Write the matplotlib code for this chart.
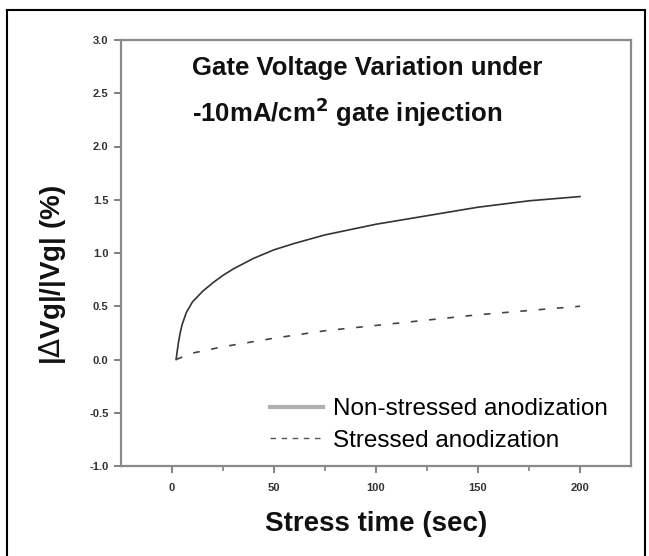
import numpy as np
import matplotlib.pyplot as plt
from matplotlib.lines import Line2D

plt.rcParams['font.family'] = ['Liberation Sans', 'DejaVu Sans']

# 数据
t_non = [2, 3, 4, 5, 7, 10, 15, 20, 25, 30, 40, 50, 60, 75, 90, 100, 125, 150, 175, 200]
v_non = [0.0, 0.14, 0.25, 0.33, 0.44, 0.54, 0.64, 0.72, 0.79, 0.85, 0.95, 1.03, 1.09, 1.17, 1.23, 1.27, 1.35, 1.43, 1.49, 1.53]
t_str = [2, 10, 25, 50, 75, 100, 125, 150, 175, 200]
v_str = [0.0, 0.06, 0.12, 0.20, 0.27, 0.32, 0.37, 0.42, 0.46, 0.50]

x_ticks = [0, 50, 100, 150, 200]
x_minor = [25, 75, 125, 175]
y_ticks = [-1.0, -0.5, 0.0, 0.5, 1.0, 1.5, 2.0, 2.5, 3.0]

fig = plt.figure(figsize=(6.49, 5.56), dpi=100)
# 坐标轴位置（像素）: 左121 右631 上40 下466
ax = fig.add_axes([121/649, 1 - 466/556, 510/649, 426/556])

ax.plot(t_non, v_non, color='#333333', lw=1.2)
ax.plot(t_str, v_str, color='#444444', lw=1.2, ls=(0, (4, 7)))

ax.set_xlim(-25, 225)
ax.set_ylim(-1.0, 3.0)
ax.set_xticks(x_ticks)
ax.set_xticks(x_minor, minor=True)
ax.set_yticks(y_ticks)
ax.set_yticklabels([f'{v:.1f}' for v in y_ticks])

for s in ax.spines.values():
    s.set_color('#8a8a8a')
    s.set_linewidth(1.6)
ax.tick_params(axis='both', which='major', direction='out', length=5, width=1.3,
               color='#777777', labelsize=8, labelcolor='#333333', pad=4)
ax.tick_params(axis='x', which='minor', direction='out', length=3.5, width=1.1, color='#777777')
ax.tick_params(axis='x', which='major', pad=7)
for lab in ax.get_xticklabels() + ax.get_yticklabels():
    lab.set_fontweight('bold')

ax.set_xlabel('Stress time (sec)', fontsize=20, fontweight='bold', color='#111111')
ax.xaxis.set_label_coords(0.5, -0.105)
ax.set_ylabel('|$\\Delta$Vg|/|Vg| (%)', fontsize=20, fontweight='bold', color='#111111')
ax.yaxis.set_label_coords(-0.104, 0.448)

ax.text(0.139, 0.934, 'Gate Voltage Variation under', transform=ax.transAxes,
        fontsize=18.5, fontweight='bold', va='center', color='#111111')
ax.text(0.139, 0.831, '-10mA/cm$^{\\mathbf{2}}$ gate injection', transform=ax.transAxes,
        fontsize=18.5, fontweight='bold', va='center', color='#111111')

handles = [Line2D([], [], color='#b0b0b0', lw=3.0),
           Line2D([], [], color='#555555', lw=1.0, ls=(0, (4, 4)))]
ax.legend(handles, ['Non-stressed anodization', 'Stressed anodization'],
          loc='center left', bbox_to_anchor=(0.292, 0.096), frameon=False,
          borderpad=0, borderaxespad=0,
          prop={'size': 17.5}, handlelength=2.2, handletextpad=0.4, labelspacing=0.4)

# 外框
fig.add_artist(plt.Line2D([7/649, 7/649], [-0.01, 1 - 10/556], color='black', lw=1.5))
fig.add_artist(plt.Line2D([7/649, 645/649], [1 - 10/556, 1 - 10/556], color='black', lw=1.5))
fig.add_artist(plt.Line2D([645/649, 645/649], [-0.01, 1 - 10/556], color='black', lw=1.5))

fig.savefig('out.png', dpi=100)
